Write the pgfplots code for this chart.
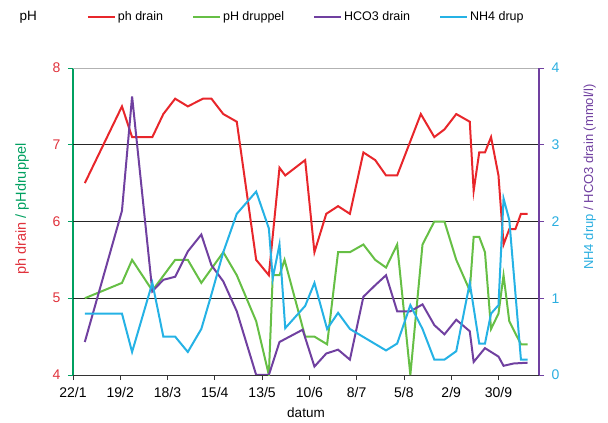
\documentclass[border=0pt]{standalone}
\usepackage{pgfplots}
\pgfplotsset{compat=1.18}
\usepackage{fontspec}
\setmainfont{Liberation Sans}
\definecolor{cred}{HTML}{E8262B}
\definecolor{cgreen}{HTML}{66BF45}
\definecolor{cpurple}{HTML}{7040A0}
\definecolor{ccyan}{HTML}{25B2E5}
\definecolor{axgreen}{HTML}{00A060}
\definecolor{tickred}{HTML}{E0323C}
\definecolor{tickcyan}{HTML}{2AAEE0}
\begin{document}
\begin{tikzpicture}
\useasboundingbox (-73bp,-48bp) rectangle (535bp,375bp);
\pgfplotsset{
  common/.style={
    scale only axis, width=466bp, height=307bp,
    xmin=0, xmax=276,
    axis line style={-},
    tick align=outside, major tick length=5bp,
    tick label style={font=\fontsize{14bp}{16bp}\selectfont},
    label style={font=\fontsize{13.5bp}{16bp}\selectfont},
    /pgf/number format/assume math mode=true,
  }
}
\begin{axis}[common,
  ymin=4, ymax=8,
  axis x line*=bottom, axis y line*=left,
  x axis line style={draw=black!80, line width=0.8bp},
  y axis line style={draw=axgreen, line width=1.2bp},
  xtick={0,28,...,252},
  xticklabels={22/1,19/2,18/3,15/4,13/5,10/6,8/7,5/8,2/9,30/9},
  ytick={4,5,6,7,8},
  xtick style={draw=black!80, line width=0.8bp},
  ytick style={draw=axgreen, line width=0.8bp},
  extra y ticks={5,6,7}, extra y tick labels={},
  extra y tick style={grid=major, major tick length=0pt},
  grid style={black!85, line width=0.8bp},
  yticklabel style={text=tickred, xshift=-4bp},
  xticklabel style={yshift=-4bp},
  xlabel={datum},
  xlabel style={at={(axis description cs:0.5,-0.124)}, anchor=center},
  ylabel={{\color{tickred}ph drain} {\color{axgreen}/ pHdruppel}},
  ylabel style={at={(axis description cs:-0.109,0.54)}, anchor=center, font=\fontsize{14.5bp}{16bp}\selectfont},
]
\draw[black!30, line width=0.8bp] (axis description cs:0,1) -- (axis description cs:1,1);
\addplot[cred, line width=2bp] coordinates {
(7,6.5)(29,7.5)(35,7.1)(47,7.1)(53.5,7.4)(60.5,7.6)(68,7.5)(77,7.6)(82,7.6)(89,7.4)(97,7.3)
(108.5,5.5)(116,5.3)(122.3,6.7)(125.7,6.6)(137.5,6.8)(143,5.6)(150,6.1)(157,6.2)(164,6.1)
(172,6.9)(179,6.8)(185.4,6.6)(192,6.6)(206,7.4)(214,7.1)(220,7.2)(227,7.4)(235,7.3)
(237.3,6.4)(240.6,6.9)(244,6.9)(247.6,7.1)(252,6.6)(255,5.7)(258.4,5.9)(262,5.9)(265.3,6.1)(269.2,6.1)
};
\addplot[cgreen, line width=2bp] coordinates {
(7,5.0)(29,5.2)(35,5.5)(47,5.1)(60.5,5.5)(68,5.5)(76,5.2)(89,5.6)(97,5.3)(108.5,4.7)(116,4.0)
(118.3,5.3)(122.3,5.3)(125.3,5.5)(137.5,4.5)(143,4.5)(150.5,4.4)(157,5.6)(164,5.6)(172,5.7)
(179,5.5)(185.4,5.4)(192,5.7)(199.8,4.0)(207,5.7)(214,6.0)(220,6.0)(227,5.5)(235,5.1)
(237.3,5.8)(240.6,5.8)(244,5.6)(247.6,4.6)(252,4.8)(255,5.3)(258.4,4.7)(265.3,4.4)(269.2,4.4)
};
\end{axis}
\begin{axis}[common,
  ymin=0, ymax=4,
  axis x line=none, axis y line*=right,
  y axis line style={draw=cpurple, line width=1.2bp},
  ytick={0,1,2,3,4},
  ytick style={draw=cpurple, line width=0.8bp},
  yticklabel style={text=tickcyan, xshift=4bp},
  ylabel={{\color{tickcyan}NH4 drup} {\color{cpurple}/ HCO3 drain (mmol/l)}},
  ylabel style={at={(axis description cs:1.109,0.645)}, anchor=center, rotate=0, font=\fontsize{13bp}{16bp}\selectfont},
  legend style={at={(axis description cs:0.023,1.166)}, anchor=west, draw=none, fill=none,
    legend columns=4, font=\fontsize{12.5bp}{14bp}\selectfont,
    /tikz/every even column/.append style={column sep=27bp}},
  legend cell align=left,
  legend image code/.code={\draw[#1] (0bp,0bp) -- (27bp,0bp);},
]
\addlegendimage{cred, line width=2bp}
\addlegendentry{ph drain}
\addlegendimage{cgreen, line width=2bp}
\addlegendentry{pH druppel}
\addplot[cpurple, line width=2bp] coordinates {
(7,0.43)(29,2.14)(35,3.63)(47,1.09)(53.5,1.24)(60.5,1.28)(68,1.61)(76,1.83)(82,1.43)(89,1.22)
(97,0.83)(108.5,0)(116,0)(122.3,0.43)(136,0.59)(143,0.11)(150,0.28)(157,0.33)(164,0.2)
(172,1.02)(179,1.17)(185.4,1.30)(192,0.83)(199.8,0.83)(207,0.92)(214,0.65)(220,0.53)
(227,0.72)(235,0.57)(237.3,0.17)(244,0.35)(252,0.24)(255,0.12)(261,0.15)(269.2,0.16)
};
\addlegendentry{HCO3 drain}
\addplot[ccyan, line width=2bp] coordinates {
(7,0.8)(29,0.8)(35,0.3)(47,1.2)(53.5,0.5)(60.5,0.5)(68,0.3)(76,0.6)(82,1.05)(89,1.6)(97,2.1)
(108.5,2.39)(116,1.91)(118.3,1.26)(122.3,1.70)(125.7,0.61)(137.5,0.9)(143,1.2)(150.5,0.6)
(157,0.81)(164,0.6)(185.4,0.32)(192,0.41)(199.8,0.91)(207,0.6)(214,0.2)(220,0.2)(227,0.31)
(235,1.2)(240.6,0.41)(244,0.41)(247.6,0.8)(252,0.91)(255,2.3)(258.4,2.02)(265.3,0.2)(269.2,0.2)
};
\addlegendentry{NH4 drup}
\end{axis}
\node[anchor=west, font=\fontsize{13.5bp}{16bp}\selectfont] at (-57bp,358bp) {pH};
\end{tikzpicture}
\end{document}
